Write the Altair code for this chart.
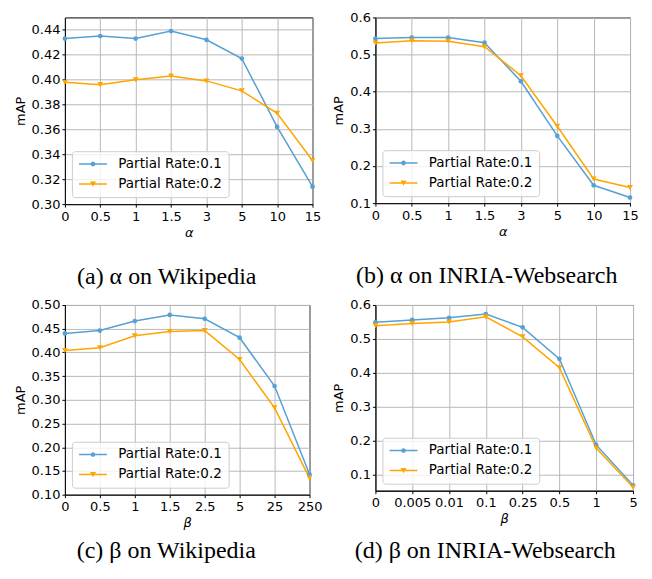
import altair as alt
import pandas as pd

S1 = "Partial Rate:0.1"
S2 = "Partial Rate:0.2"
BLUE = "#56a0d3"
ORANGE = "#ffa500"

alpha_ticks = ["0", "0.5", "1", "1.5", "3", "5", "10", "15"]
beta_wiki_ticks = ["0", "0.5", "1", "1.5", "2.5", "5", "25", "250"]
beta_inria_ticks = ["0", "0.005", "0.01", "0.1", "0.25", "0.5", "1", "5"]

a_r1 = [0.433, 0.435, 0.433, 0.439, 0.432, 0.417, 0.362, 0.314]
a_r2 = [0.398, 0.396, 0.400, 0.403, 0.399, 0.391, 0.373, 0.335]
b_r1 = [0.543, 0.546, 0.546, 0.532, 0.428, 0.281, 0.148, 0.115]
b_r2 = [0.531, 0.537, 0.536, 0.521, 0.443, 0.307, 0.165, 0.142]
c_r1 = [0.440, 0.446, 0.466, 0.479, 0.471, 0.431, 0.329, 0.143]
c_r2 = [0.404, 0.410, 0.435, 0.444, 0.446, 0.385, 0.283, 0.135]
d_r1 = [0.549, 0.556, 0.562, 0.573, 0.534, 0.441, 0.187, 0.068]
d_r2 = [0.539, 0.545, 0.550, 0.565, 0.506, 0.415, 0.178, 0.062]

y_a = [0.30, 0.32, 0.34, 0.36, 0.38, 0.40, 0.42, 0.44]
y_b = [0.1, 0.2, 0.3, 0.4, 0.5, 0.6]
y_c = [0.10, 0.15, 0.20, 0.25, 0.30, 0.35, 0.40, 0.45, 0.50]
y_d = [0.1, 0.2, 0.3, 0.4, 0.5, 0.6]

# legend glyphs: line segment with marker (custom symbol paths)
P_LINE_CIRCLE = ("M-1,-0.134L4,-0.134L4,0.134L-1,0.134Z "
                 "M1.92,0A0.42,0.42 0 1,1 1.08,0A0.42,0.42 0 1,1 1.92,0Z")
P_LINE_TRI = ("M-1,-0.134L4,-0.134L4,0.134L-1,0.134Z "
              "M0.95,-0.45L2.05,-0.45L1.5,0.5Z")


def panel(ticks, r1, r2, ydom, yvals, yfmt, xtitle, caption, w, h, cap_dx, cap_off):
    df = pd.DataFrame({
        "x": ticks + ticks,
        "v": r1 + r2,
        "s": [S1] * len(ticks) + [S2] * len(ticks),
    })
    base = alt.Chart(df)
    x = alt.X("x:N", sort=ticks, scale=alt.Scale(type="point", padding=0),
              axis=alt.Axis(title=xtitle, labelAngle=0, grid=True, labelOverlap=False,
                            titleFontStyle="italic"))
    y = alt.Y("v:Q", scale=alt.Scale(domain=ydom, nice=False, zero=False),
              axis=alt.Axis(title="mAP", values=yvals, format=yfmt, grid=True,
                            labelOverlap=False))
    s1 = base.transform_filter(alt.datum.s == S1)
    s2 = base.transform_filter(alt.datum.s == S2)
    l1 = s1.mark_line(strokeWidth=1.5, color=BLUE).encode(x=x, y=y)
    l2 = s2.mark_line(strokeWidth=1.5, color=ORANGE).encode(x=x, y=y)
    p1 = s1.mark_point(shape="circle", filled=True, size=22, opacity=1,
                       color=BLUE).encode(x=x, y=y)
    p2 = s2.mark_point(shape="triangle-down", filled=True, size=34, opacity=1,
                       color=ORANGE).encode(x=x, y=y)
    leg = alt.Legend(title=None, orient="bottom-left", offset=7, symbolSize=125,
                     symbolStrokeWidth=0, symbolOpacity=1,
                     labelFont="DejaVu Sans", labelFontSize=13.5, labelColor="black",
                     labelOffset=27, rowPadding=5, padding=6,
                     strokeColor="#cccccc", fillColor="rgba(255,255,255,0.8)",
                     cornerRadius=3)
    legend_layer = base.mark_point(filled=True, opacity=1, size=0).encode(
        x=x, y=y,
        color=alt.Color("s:N", scale=alt.Scale(domain=[S1, S2], range=[BLUE, ORANGE]),
                        legend=leg),
        shape=alt.Shape("s:N", scale=alt.Scale(domain=[S1, S2],
                                               range=[P_LINE_CIRCLE, P_LINE_TRI]),
                        legend=leg),
    )
    return alt.layer(l1, l2, p1, p2, legend_layer).properties(
        width=w, height=h,
        title=alt.TitleParams(text=caption, orient="bottom", anchor="middle",
                              frame="group", dx=cap_dx, offset=cap_off,
                              font="Liberation Serif", fontSize=24,
                              fontWeight="normal", color="black", baseline="top"),
    )


pa = panel(alpha_ticks, a_r1, a_r2, [0.30, 0.45], y_a, ".2f", "α",
           "(a) α on Wikipedia", 248, 187, -22, 26)
pb = panel(alpha_ticks, b_r1, b_r2, [0.1, 0.6], y_b, ".1f", "α",
           "(b) α on INRIA-Websearch", 255, 186, -16, 26)
pc = panel(beta_wiki_ticks, c_r1, c_r2, [0.10, 0.50], y_c, ".2f", "β",
           "(c) β on Wikipedia", 245, 190, -21, 9)
pd_ = panel(beta_inria_ticks, d_r1, d_r2, [0.052, 0.6], y_d, ".1f", "β",
            "(d) β on INRIA-Websearch", 258, 186, -19, 13)

chart = alt.concat(pa, pb, pc, pd_, columns=2, bounds="flush", align="each",
                   spacing={"row": 101, "column": 63}).resolve_scale(
    color="independent", shape="independent"
).resolve_legend(
    color="independent", shape="independent"
).properties(
    padding={"left": 5, "top": 2, "right": 5, "bottom": 2}
).configure_view(stroke="black", strokeWidth=1).configure_axis(
    domainColor="black", domainWidth=1, tickColor="black", tickSize=3,
    tickWidth=1, gridColor="#b8b8b8", gridWidth=1,
    labelFont="DejaVu Sans", labelFontSize=13, labelColor="black", labelPadding=3,
    titleFont="DejaVu Sans", titleFontSize=13, titleFontWeight="normal",
    titleColor="black", titlePadding=3,
).configure_axisY(labelPadding=2, titlePadding=4)

chart.save("out.html", embed_options={"renderer": "svg", "actions": False})
